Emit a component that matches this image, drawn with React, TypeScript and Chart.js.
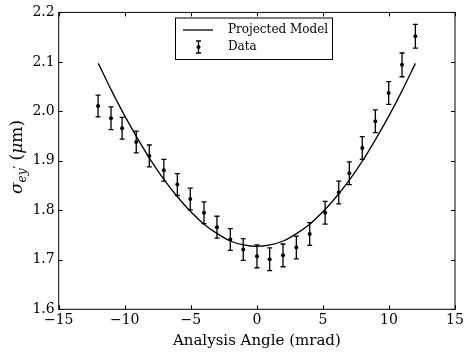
import React, { useEffect, useRef } from "react";
import { Chart, registerables } from "chart.js";

Chart.register(...registerables);

// Measured data
const angles = [-12.02, -11.04, -10.2, -9.13, -8.14, -7.04, -6.02, -5.04, -4.0, -3.02, -2.01, -1.03, 0.01, 0.97, 1.98, 2.99, 4.0, 5.17, 6.2, 7.0, 7.98, 8.97, 9.98, 10.99, 12.0];
const sigma = [2.011, 1.986, 1.966, 1.938, 1.91, 1.881, 1.852, 1.823, 1.795, 1.766, 1.741, 1.721, 1.707, 1.701, 1.709, 1.725, 1.752, 1.795, 1.836, 1.875, 1.926, 1.98, 2.037, 2.094, 2.152];
const sigmaErr = [0.022, 0.023, 0.022, 0.022, 0.022, 0.022, 0.022, 0.022, 0.022, 0.022, 0.022, 0.022, 0.023, 0.023, 0.023, 0.023, 0.023, 0.023, 0.023, 0.023, 0.023, 0.023, 0.023, 0.024, 0.024];

// Projected model
const modelAngles = [-12, -11, -10, -9, -8, -7, -6, -5, -4, -3, -2, -1, 0, 1, 2, 3, 4, 5, 6, 7, 8, 9, 10, 11, 12];
const modelSigma = [2.097, 2.042, 1.991, 1.944, 1.9, 1.861, 1.827, 1.797, 1.772, 1.753, 1.738, 1.73, 1.727, 1.73, 1.738, 1.753, 1.772, 1.797, 1.827, 1.861, 1.9, 1.944, 1.991, 2.042, 2.097];

const xTicks = [-15, -10, -5, 0, 5, 10, 15];
const yTicks = [1.6, 1.7, 1.8, 1.9, 2.0, 2.1, 2.2];

const xTitle = "Analysis Angle (mrad)";
const legendLabels = ["Projected Model", "Data"];

const FONT = "'DejaVu Serif', serif";

const framePlugin = {
  id: "framePlugin",
  beforeDatasetsDraw(chart: any) {
    const { ctx, scales } = chart;
    const x = scales.x;
    const y = scales.y;
    ctx.save();
    ctx.strokeStyle = "#000";
    ctx.lineWidth = 1.3;
    angles.forEach((a, i) => {
      const px = x.getPixelForValue(a);
      const p1 = y.getPixelForValue(sigma[i] - sigmaErr[i]);
      const p2 = y.getPixelForValue(sigma[i] + sigmaErr[i]);
      ctx.beginPath();
      ctx.moveTo(px, p1);
      ctx.lineTo(px, p2);
      ctx.moveTo(px - 2.5, p1);
      ctx.lineTo(px + 2.5, p1);
      ctx.moveTo(px - 2.5, p2);
      ctx.lineTo(px + 2.5, p2);
      ctx.stroke();
    });
    ctx.restore();
  },
  afterDraw(chart: any) {
    const { ctx, chartArea, scales } = chart;
    const { left, right, top, bottom } = chartArea;
    const x = scales.x;
    const y = scales.y;
    ctx.save();
    ctx.strokeStyle = "#000";
    ctx.lineWidth = 1;
    ctx.strokeRect(left, top, right - left, bottom - top);
    ctx.beginPath();
    xTicks.forEach((v) => {
      const px = Math.round(x.getPixelForValue(v)) + 0.5;
      ctx.moveTo(px, bottom);
      ctx.lineTo(px, bottom - 4);
      ctx.moveTo(px, top);
      ctx.lineTo(px, top + 4);
    });
    yTicks.forEach((v) => {
      const py = Math.round(y.getPixelForValue(v)) + 0.5;
      ctx.moveTo(left, py);
      ctx.lineTo(left + 4, py);
      ctx.moveTo(right, py);
      ctx.lineTo(right - 4, py);
    });
    ctx.stroke();

    // Legend
    const lx = 175, ly = 17.5, lw = 157, lh = 41.5;
    ctx.fillStyle = "#fff";
    ctx.fillRect(lx, ly, lw, lh);
    ctx.strokeStyle = "#000";
    ctx.lineWidth = 1;
    ctx.strokeRect(lx + 0.5, ly + 0.5, lw, lh);
    ctx.lineWidth = 1.3;
    ctx.beginPath();
    ctx.moveTo(183, 30);
    ctx.lineTo(213, 30);
    ctx.stroke();
    ctx.beginPath();
    ctx.moveTo(198.5, 41);
    ctx.lineTo(198.5, 53);
    ctx.moveTo(196, 41);
    ctx.lineTo(201, 41);
    ctx.moveTo(196, 53);
    ctx.lineTo(201, 53);
    ctx.stroke();
    ctx.fillStyle = "#000";
    ctx.beginPath();
    ctx.arc(198.5, 47, 2, 0, Math.PI * 2);
    ctx.fill();
    ctx.font = `12px ${FONT}`;
    ctx.textBaseline = "middle";
    ctx.textAlign = "left";
    ctx.fillText(legendLabels[0], 228, 30);
    ctx.fillText(legendLabels[1], 228, 47);

    // Y axis title: sigma_{ey'} (mu m)
    ctx.translate(17, 157);
    ctx.rotate(-Math.PI / 2);
    const parts = [
      { t: "σ", f: `italic 17px ${FONT}`, dy: 0 },
      { t: "ey", f: `italic 12px ${FONT}`, dy: 4 },
      { t: "′", f: `12px ${FONT}`, dy: 1 },
      { t: " (", f: `17px ${FONT}`, dy: 0 },
      { t: "μ", f: `italic 17px ${FONT}`, dy: 0 },
      { t: "m)", f: `17px ${FONT}`, dy: 0 },
    ];
    let total = 0;
    parts.forEach((p) => {
      ctx.font = p.f;
      total += ctx.measureText(p.t).width;
    });
    let cx = -total / 2;
    ctx.textBaseline = "alphabetic";
    parts.forEach((p) => {
      ctx.font = p.f;
      ctx.fillText(p.t, cx, 5 + p.dy);
      cx += ctx.measureText(p.t).width;
    });
    ctx.restore();
  },
};

export default function App() {
  const ref = useRef<HTMLCanvasElement>(null);
  useEffect(() => {
    if (!ref.current) return;
    const chart = new Chart(ref.current, {
      type: "scatter",
      data: {
        datasets: [
          {
            type: "line",
            label: legendLabels[0],
            data: modelAngles.map((a, i) => ({ x: a, y: modelSigma[i] })),
            borderColor: "#000",
            borderWidth: 1.3,
            pointRadius: 0,
            cubicInterpolationMode: "monotone",
            fill: false,
          } as any,
          {
            type: "scatter",
            label: legendLabels[1],
            data: angles.map((a, i) => ({ x: a, y: sigma[i] })),
            pointRadius: 2,
            backgroundColor: "#000",
            borderColor: "#000",
            borderWidth: 0,
          },
        ],
      },
      options: {
        animation: false,
        responsive: false,
        layout: { padding: { top: 10.7, right: 14, left: 0, bottom: 0 } },
        plugins: { legend: { display: false }, tooltip: { enabled: false } },
        scales: {
          x: {
            type: "linear",
            min: -15,
            max: 15,
            afterFit: (s: any) => {
              s.height = 42.7;
            },
            afterBuildTicks: (s: any) => {
              s.ticks = xTicks.map((v) => ({ value: v }));
            },
            ticks: {
              font: { family: FONT, size: 14 },
              color: "#000",
              padding: 3,
              maxRotation: 0,
              callback: (v: any) => String(v).replace("-", "\u2212"),
            },
            grid: { display: false, drawTicks: false },
            border: { display: false },
            title: {
              display: true,
              text: xTitle,
              font: { family: FONT, size: 15 },
              color: "#000",
              padding: { top: 0, bottom: 2 },
            },
          },
          y: {
            type: "linear",
            min: 1.6,
            max: 2.2,
            afterFit: (s: any) => {
              s.width = 58.7;
            },
            afterBuildTicks: (s: any) => {
              s.ticks = yTicks.map((v) => ({ value: v }));
            },
            ticks: {
              font: { family: FONT, size: 14 },
              color: "#000",
              padding: 4,
              callback: (v: any) => Number(v).toFixed(1),
            },
            grid: { display: false, drawTicks: false },
            border: { display: false },
          },
        },
      },
      plugins: [framePlugin],
    });
    return () => chart.destroy();
  }, []);
  return (
    <div style={{ position: "absolute", left: 0, top: 0, width: 469, height: 352, background: "#fff" }}>
      <canvas ref={ref} width={469} height={352} style={{ display: "block" }} />
    </div>
  );
}
